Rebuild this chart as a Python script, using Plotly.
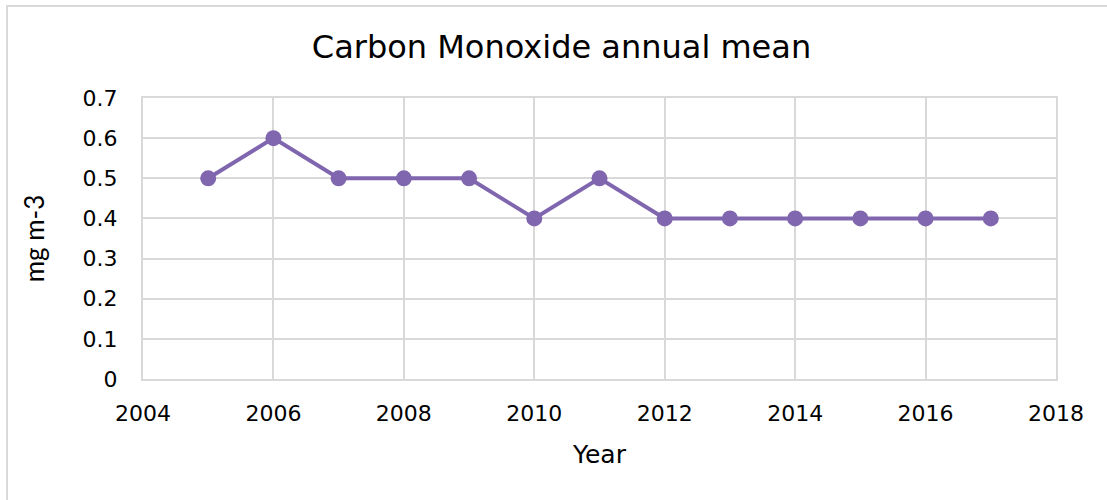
import plotly.graph_objects as go

# Annual mean carbon monoxide concentration
years = [2005, 2006, 2007, 2008, 2009, 2010, 2011, 2012, 2013, 2014, 2015, 2016, 2017]
co_mean = [0.5, 0.6, 0.5, 0.5, 0.5, 0.4, 0.5, 0.4, 0.4, 0.4, 0.4, 0.4, 0.4]

x_ticks = [2004, 2006, 2008, 2010, 2012, 2014, 2016, 2018]
y_ticks = [0, 0.1, 0.2, 0.3, 0.4, 0.5, 0.6, 0.7]
y_tick_text = ["0", "0.1", "0.2", "0.3", "0.4", "0.5", "0.6", "0.7"]

purple = "#7F66AE"
grid = "#D9D9D9"
font_main = "DejaVu Sans"

fig = go.Figure()
fig.add_trace(go.Scatter(
    x=years, y=co_mean, mode="lines+markers",
    line=dict(color=purple, width=4),
    marker=dict(color=purple, size=16),
    showlegend=False, cliponaxis=False,
))

fig.update_layout(
    width=1107, height=500,
    margin=dict(l=143, r=51, t=98, b=121),
    paper_bgcolor="white", plot_bgcolor="white",
    font=dict(family=font_main, color="#000000", size=22),
    title=dict(text="Carbon Monoxide annual mean", x=561.5 / 1107, xanchor="center",
               y=1 - 47 / 500, yanchor="middle",
               font=dict(family=font_main, size=32, color="#000000")),
    xaxis=dict(range=[2004, 2018], tickvals=x_ticks, ticktext=[str(v) for v in x_ticks],
               showgrid=True, gridcolor=grid, gridwidth=1.5,
               showline=True, linecolor=grid, linewidth=2, mirror=True,
               zeroline=False, ticks="", ticklabelstandoff=14,
               title=dict(text="Year", standoff=20, font=dict(size=25))),
    yaxis=dict(range=[0, 0.7], tickvals=y_ticks, ticktext=y_tick_text,
               showgrid=True, gridcolor=grid, gridwidth=1.5,
               showline=True, linecolor=grid, linewidth=2, mirror=True,
               zeroline=False, ticks="", ticklabelstandoff=19,
               title=dict(text="mg m-3", standoff=30,
                          font=dict(family="Lato", size=26))),
)

# Outer chart frame
fig.add_shape(type="rect", xref="paper", yref="paper",
              x0=-136 / 913, x1=1.2, y0=-0.5, y1=1 + 92 / 281,
              line=dict(color=grid, width=2), fillcolor="rgba(0,0,0,0)", layer="below")

fig.write_html("out.html")
